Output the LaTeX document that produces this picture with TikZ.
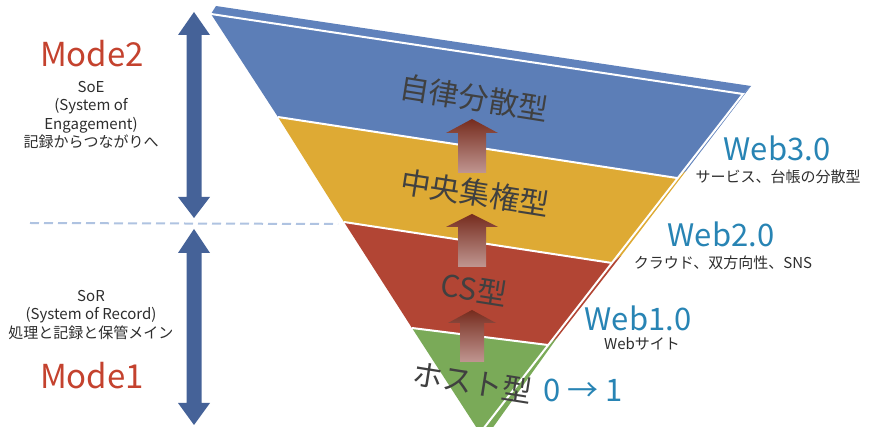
\documentclass[tikz,border=0pt]{standalone}
\usepackage{fontspec}
\setmainfont{Noto Sans CJK JP}
\definecolor{blueF}{RGB}{92,126,183}
\definecolor{blueT}{RGB}{96,130,188}
\definecolor{yellowF}{RGB}{222,170,52}
\definecolor{redF}{RGB}{178,69,52}
\definecolor{greenF}{RGB}{122,170,88}
\definecolor{arrBlue}{RGB}{69,98,152}
\definecolor{arrTop}{RGB}{118,44,30}
\definecolor{arrBot}{RGB}{192,150,145}
\definecolor{txtGray}{RGB}{64,64,64}
\definecolor{txtDark}{RGB}{45,45,45}
\definecolor{modeRed}{RGB}{196,66,46}
\definecolor{webBlue}{RGB}{40,132,180}
\definecolor{dashBlue}{RGB}{175,195,225}
\begin{document}
\begin{tikzpicture}[x=1pt,y=-1pt,
  sepline/.style={white,line width=2pt},
  bandlbl/.style={text=txtGray,inner sep=0pt,rotate=-9,font=\fontsize{30}{30}\selectfont},
  modelbl/.style={text=modeRed,inner sep=0pt,font=\fontsize{33}{33}\selectfont},
  sidetxt/.style={text=txtDark,inner sep=0pt,align=center,font=\fontsize{15}{18.6}\selectfont},
  weblbl/.style={text=webBlue,inner sep=0pt,font=\fontsize{31}{31}\selectfont},
  webnote/.style={text=txtDark,inner sep=0pt,font=\fontsize{15}{15}\selectfont},
  uparrow/.style={top color=arrTop,bottom color=arrBot},
  dblarrow/.style={fill=arrBlue}]
\useasboundingbox (0,0) rectangle (871,427);
\begin{scope}
\clip (0,0) rectangle (871,427);
\coordinate (TL) at (211,14);
\coordinate (TR) at (743,94);
\coordinate (A) at (480,433);
\coordinate (L1) at (278,117); \coordinate (R1) at (677,178);
\coordinate (L2) at (344,222); \coordinate (R2) at (612,263);
\coordinate (L3) at (412,328); \coordinate (R3) at (548,345);
% top face
\fill[blueT] (TL) -- (216,6) -- (751,86) -- (TR) -- cycle;
% side face
\fill[blueT] (TR) -- (751,86) -- (686,171) -- (R1) -- cycle;
\fill[yellowF] (R1) -- (686,171) -- (621,256) -- (R2) -- cycle;
\fill[redF] (R2) -- (621,256) -- (557,338) -- (R3) -- cycle;
\fill[greenF] (R3) -- (557,338) -- (489,433) -- (A) -- cycle;
% front face
\fill[blueF] (TL) -- (TR) -- (R1) -- (L1) -- cycle;
\fill[yellowF] (L1) -- (R1) -- (R2) -- (L2) -- cycle;
\fill[redF] (L2) -- (R2) -- (R3) -- (L3) -- cycle;
\fill[greenF] (L3) -- (R3) -- (A) -- cycle;
% white edges
\draw[sepline] (TL) -- (TR) -- (A);
\draw[sepline] (L1) -- (R1);
\draw[sepline] (L2) -- (R2);
\draw[sepline] (L3) -- (R3);
\end{scope}
% brown arrows
\shade[uparrow] (472,119) -- (498,133) -- (486,133) -- (486,173) -- (458,173) -- (458,133) -- (446,133) -- cycle;
\shade[uparrow] (472,214) -- (498,227) -- (486,227) -- (486,267) -- (458,267) -- (458,227) -- (446,227) -- cycle;
\shade[uparrow] (472,310) -- (496,323) -- (484,323) -- (484,362) -- (460,362) -- (460,323) -- (448,323) -- cycle;
% band labels
\node[bandlbl] (b4) at (474,98) {自律分散型};
\node[bandlbl] (b3) at (475,193) {中央集権型};
\node[bandlbl] (b2) at (474,289) {CS型};
\node[bandlbl] (b1) at (473,382) {ホスト型};
% left double arrows
\fill[dblarrow] (194,12) -- (210,35) -- (201.5,35) -- (201.5,197) -- (210,197) -- (194,218) -- (178,197) -- (186.5,197) -- (186.5,35) -- (178,35) -- cycle;
\fill[dblarrow] (194,229) -- (210,253) -- (201.5,253) -- (201.5,403) -- (210,403) -- (194,425) -- (178,403) -- (186.5,403) -- (186.5,253) -- (178,253) -- cycle;
% dashed divider
\coordinate (d1) at (30,223);
\coordinate (d2) at (338,224);
\draw[dashBlue,line width=2pt,dash pattern=on 9pt off 5pt] (d1) -- (d2);
% left labels
\node[modelbl] (m2) at (92,54) {Mode2};
\node[sidetxt] (soe) at (91,115) {SoE\\(System of\\Engagement)\\記録からつながりへ};
\node[sidetxt] (sor) at (91,315) {SoR\\(System of Record)\\処理と記録と保管メイン};
\node[modelbl] (m1) at (92,376) {Mode1};
% right labels
\node[weblbl] (w3) at (777,148) {Web3.0};
\node[webnote] (n3) at (778,177) {サービス、台帳の分散型};
\node[weblbl] (w2) at (721,234) {Web2.0};
\node[webnote] (n2) at (723,263) {クラウド、双方向性、SNS};
\node[weblbl] (w1) at (638,318) {Web1.0};
\node[webnote] (n1) at (642,344) {Webサイト};
\node[weblbl] (z) at (583,390) {0 → 1};
\end{tikzpicture}
\end{document}
